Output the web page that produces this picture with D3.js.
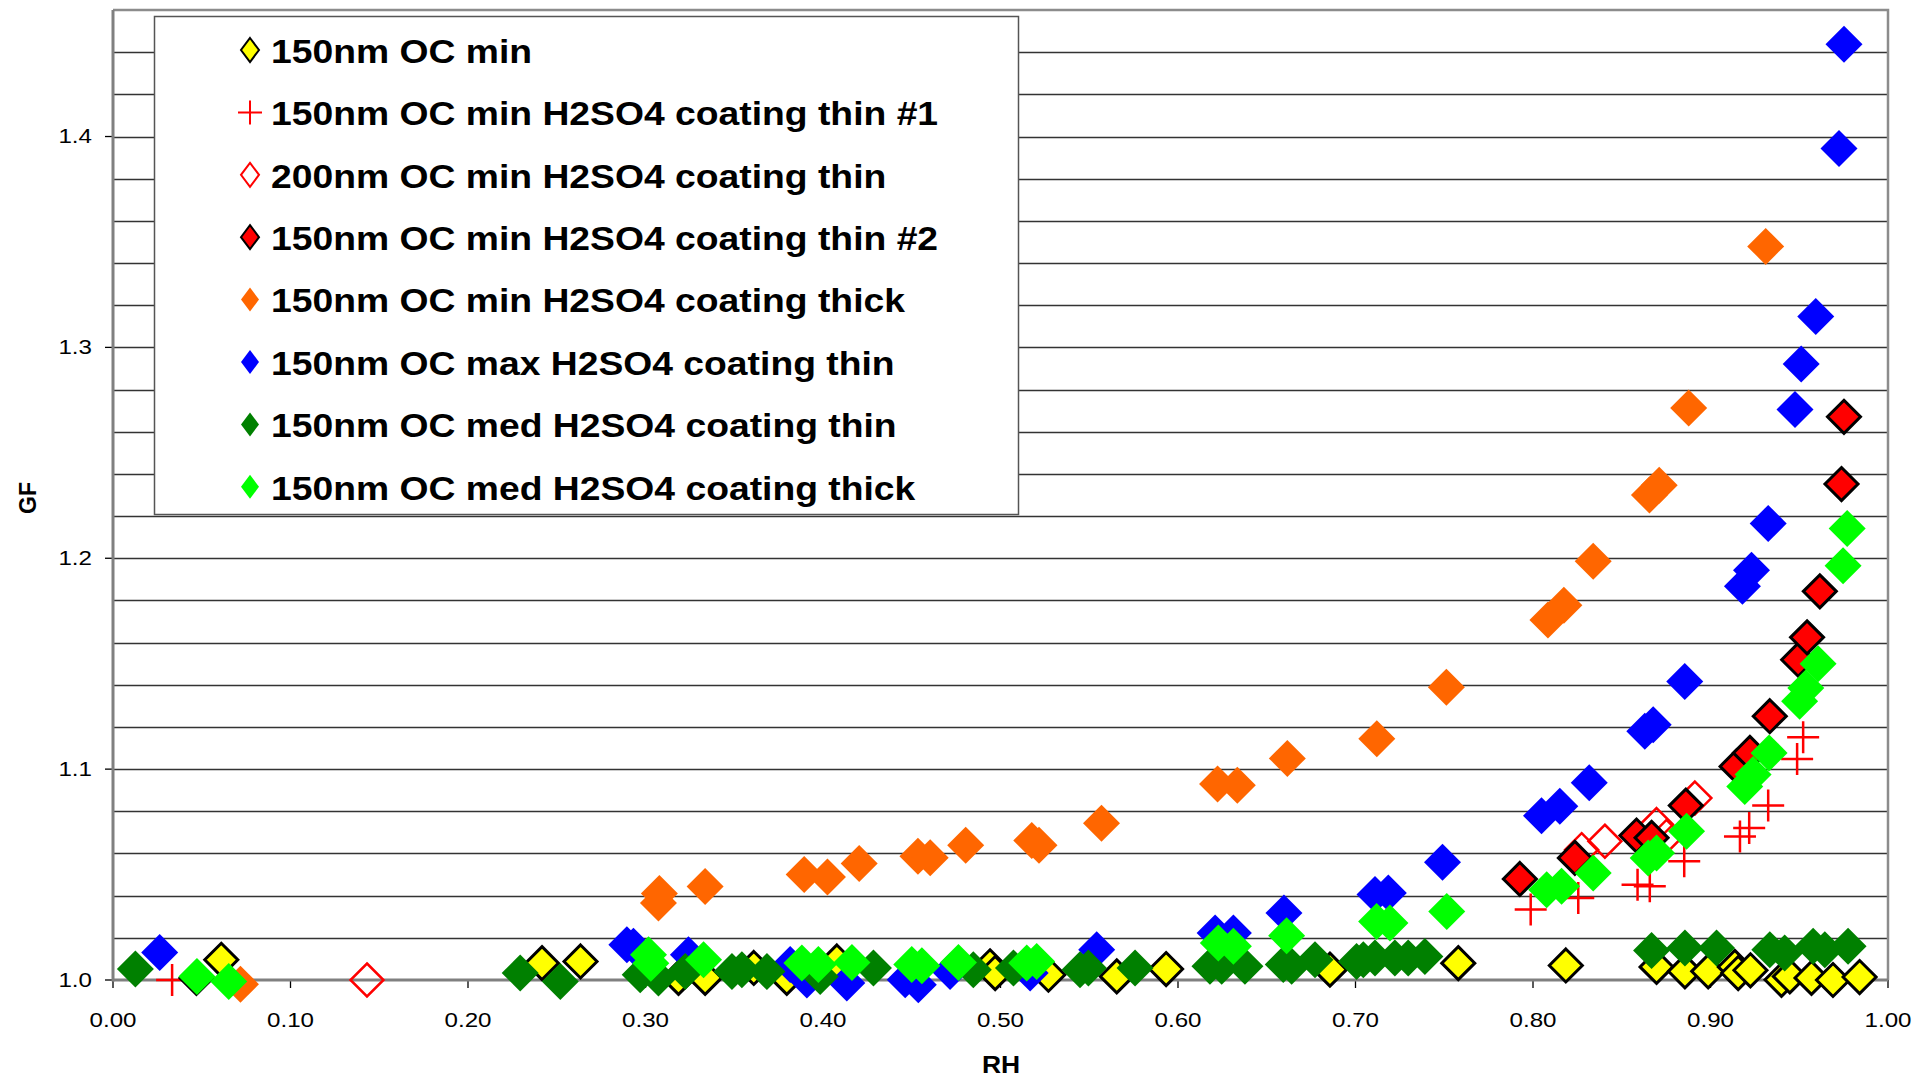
<!DOCTYPE html>
<head>
<meta charset="utf-8">
<title>GF vs RH</title>
<style>
    body { margin: 0; background: #fff; }
    text { font-family: "Liberation Sans", Arial, sans-serif; fill: #000; }
    .tick-label { font-size: 21px; }
    .axis-title { font-size: 23px; font-weight: bold; }
    .legend-label { font-size: 33px; font-weight: bold; }
</style>
</head>
<body>
<script src="https://d3js.org/d3.v7.min.js"></script>
<script>

// [RH, GF] pairs
const ocMin = [[0.061,1.0096],[0.2417,1.008],[0.2634,1.0088],[0.3186,1.001],[0.3336,1.001],[0.361,1.0057],
    [0.3796,1.001],[0.4078,1.0088],[0.4941,1.0065],[0.497,1.0033],[0.527,1.0025],[0.5655,1.0017],[0.5933,1.0052],
    [0.6856,1.0049],[0.7579,1.008],[0.8185,1.0069],[0.8696,1.0062],[0.8856,1.0041],[0.8987,1.0041],[0.9137,1.0062],
    [0.9156,1.0033],[0.9225,1.0046],[0.940,1.0001],[0.9447,1.0017],[0.9569,1.001],[0.969,1.000],[0.984,1.0014]];

const ocMinThin1 = [[0.0333,1.000],[0.7987,1.0334],[0.8255,1.0389],[0.8589,1.0452],[0.8658,1.0444],[0.8852,1.0563],
    [0.9166,1.0681],[0.9218,1.0721],[0.9325,1.0827],[0.9488,1.1048],[0.9522,1.1151]];

const oc200Thin = [[0.1431,1.000],[0.8274,1.0618],[0.8405,1.0658],[0.8696,1.0737],[0.8752,1.0681],[0.8912,1.0863]];

const ocMinThin2 = [[0.047,1.001],[0.7926,1.0479],[0.8236,1.0579],[0.8583,1.0685],[0.8668,1.0674],[0.8861,1.0827],
    [0.9147,1.1013],[0.9222,1.1077],[0.9334,1.1251],[0.9494,1.1519],[0.9544,1.1625],[0.9616,1.1843],[0.9738,1.2352],
    [0.9752,1.2671]];

const ocMinThick = [[0.0718,0.998],[0.3073,1.0365],[0.3078,1.041],[0.3336,1.0443],[0.3894,1.050],[0.4025,1.0488],
    [0.4204,1.0552],[0.4535,1.0587],[0.4604,1.058],[0.4804,1.0639],[0.5176,1.0662],[0.5217,1.0639],[0.5569,1.0743],
    [0.6223,1.0929],[0.6334,1.0923],[0.6616,1.1051],[0.712,1.1144],[0.7512,1.1388],[0.8084,1.1707],[0.8174,1.1777],
    [0.8339,1.1986],[0.8656,1.230],[0.8711,1.2346],[0.8877,1.2712],[0.9311,1.3479]];

const ocMaxThin = [[0.0263,1.0131],[0.2895,1.0167],[0.2932,1.016],[0.3242,1.012],[0.3815,1.0073],[0.3909,1.000],
    [0.4134,0.9986],[0.4463,1.0001],[0.4537,0.9978],[0.4716,1.004],[0.5167,1.0033],[0.5542,1.0144],[0.6209,1.0223],
    [0.6312,1.0223],[0.6597,1.0318],[0.711,1.0405],[0.7185,1.0413],[0.749,1.0558],[0.8048,1.0779],[0.8151,1.0824],
    [0.8317,1.0935],[0.863,1.118],[0.8677,1.1211],[0.8855,1.1416],[0.918,1.1867],[0.9231,1.1943],[0.9325,1.2165],
    [0.9476,1.2706],[0.9511,1.2921],[0.9593,1.3147],[0.9724,1.3943],[0.9752,1.4437]];

const ocMedThin = [[0.0126,1.0052],[0.2294,1.0033],[0.252,0.9993],[0.297,1.0025],[0.3073,1.001],[0.3224,1.004],
    [0.3487,1.004],[0.3543,1.0049],[0.3684,1.004],[0.3984,1.0017],[0.4284,1.0057],[0.4847,1.0049],[0.5073,1.0057],
    [0.5448,1.0049],[0.5495,1.0057],[0.5758,1.0057],[0.618,1.0065],[0.6246,1.0065],[0.6377,1.0065],[0.6593,1.0073],
    [0.664,1.0065],[0.6772,1.0096],[0.7006,1.0088],[0.7044,1.0096],[0.711,1.0104],[0.7222,1.0104],[0.7297,1.0104],
    [0.7391,1.0112],[0.8668,1.014],[0.8856,1.0152],[0.9034,1.0152],[0.9334,1.0144],[0.9418,1.0128],[0.9578,1.016],
    [0.9644,1.0144],[0.9775,1.016]];

const ocMedThick = [[0.0473,1.0017],[0.0652,0.9993],[0.3017,1.012],[0.303,1.008],[0.3327,1.0096],[0.3881,1.0081],
    [0.3974,1.0073],[0.4163,1.0083],[0.45,1.0073],[0.4557,1.0068],[0.4763,1.0083],[0.5148,1.0081],[0.5204,1.0088],
    [0.6227,1.0176],[0.6312,1.016],[0.6612,1.021],[0.7119,1.0278],[0.7194,1.027],[0.7514,1.0325],[0.8077,1.0428],
    [0.8161,1.0444],[0.8339,1.0508],[0.8649,1.0579],[0.8696,1.0602],[0.8865,1.0705],[0.9193,1.0918],[0.924,1.0974],
    [0.933,1.1077],[0.9502,1.1322],[0.9537,1.1385],[0.9606,1.15],[0.9747,1.1965],[0.977,1.2141]];

const seriesNames = [
    "150nm OC min",
    "150nm OC min H2SO4 coating thin #1",
    "200nm OC min H2SO4 coating thin",
    "150nm OC min H2SO4 coating thin #2",
    "150nm OC min H2SO4 coating thick",
    "150nm OC max H2SO4 coating thin",
    "150nm OC med H2SO4 coating thin",
    "150nm OC med H2SO4 coating thick"
];
const xTicks = [0, 0.1, 0.2, 0.3, 0.4, 0.5, 0.6, 0.7, 0.8, 0.9, 1.0];
const yTicks = [1.0, 1.1, 1.2, 1.3, 1.4];

// marker style per series: shape, fill, stroke
const styles = [
    {shape: "diamond", fill: "#ffff00", stroke: "#000", sw: 3},
    {shape: "plus", fill: "none", stroke: "#ff0000", sw: 2.5},
    {shape: "diamond", fill: "none", stroke: "#ff0000", sw: 2.5},
    {shape: "diamond", fill: "#ff0000", stroke: "#000", sw: 3},
    {shape: "diamond", fill: "#ff6600", stroke: "none", sw: 0},
    {shape: "diamond", fill: "#0000ff", stroke: "none", sw: 0},
    {shape: "diamond", fill: "#008000", stroke: "none", sw: 0},
    {shape: "diamond", fill: "#00ff00", stroke: "none", sw: 0}
];
const allSeries = [ocMin, ocMinThin1, oc200Thin, ocMinThin2, ocMinThick, ocMaxThin, ocMedThin, ocMedThick];

const W = 1919, H = 1078;
const stretch = 1.15;   // the source chart is stretched horizontally

const svg = d3.select("body").append("svg")
    .attr("width", W)
    .attr("height", H);

const x = d3.scaleLinear().domain([0, 1]).range([113, 1888]);
const y = d3.scaleLinear().domain([1.0, 1.46]).range([980, 10]);

function markerPath(shape, r) {
    if (shape === "plus") return `M${-r},0H${r}M0,${-r}V${r}`;
    return `M0,${-r}L${r},0L0,${r}L${-r},0Z`;
}

// gridlines every 0.02
const grid = d3.range(1.02, 1.4501, 0.02);
svg.append("g").selectAll("line")
    .data(grid)
    .join("line")
    .attr("x1", x(0)).attr("x2", x(1))
    .attr("y1", d => Math.round(y(d)) + 0.5).attr("y2", d => Math.round(y(d)) + 0.5)
    .attr("stroke", "#333")
    .attr("stroke-width", 1.3);

// plot frame (top & right)
svg.append("path")
    .attr("d", `M${x(0)},${y(1.46)}H${x(1)}V${y(1.0)}`)
    .attr("fill", "none")
    .attr("stroke", "#8c8c8c")
    .attr("stroke-width", 2.5);

// y axis
svg.append("g").selectAll("line")
    .data(yTicks)
    .join("line")
    .attr("x1", x(0) - 8).attr("x2", x(0))
    .attr("y1", d => y(d)).attr("y2", d => y(d))
    .attr("stroke", "#000").attr("stroke-width", 1.3);

svg.append("g").selectAll("text")
    .data(yTicks)
    .join("text")
    .attr("class", "tick-label")
    .attr("text-anchor", "end")
    .attr("dominant-baseline", "central")
    .attr("transform", d => `translate(92,${y(d)}) scale(${stretch},1)`)
    .text(d => d.toFixed(1));

// x axis
svg.append("g").selectAll("line")
    .data(xTicks)
    .join("line")
    .attr("x1", d => x(d)).attr("x2", d => x(d))
    .attr("y1", y(1.0)).attr("y2", y(1.0) + 8)
    .attr("stroke", "#000").attr("stroke-width", 1.3);

svg.append("g").selectAll("text")
    .data(xTicks)
    .join("text")
    .attr("class", "tick-label")
    .attr("text-anchor", "middle")
    .attr("transform", d => `translate(${x(d)},1027) scale(${stretch},1)`)
    .text(d => d.toFixed(2));

svg.append("line")
    .attr("x1", x(0)).attr("x2", x(1))
    .attr("y1", y(1.0)).attr("y2", y(1.0))
    .attr("stroke", "#808080").attr("stroke-width", 3);
svg.append("line")
    .attr("x1", x(0)).attr("x2", x(0))
    .attr("y1", y(1.46)).attr("y2", y(1.0) + 1.5)
    .attr("stroke", "#808080").attr("stroke-width", 3);

// axis titles
svg.append("text")
    .attr("class", "axis-title")
    .attr("text-anchor", "middle")
    .attr("transform", `translate(1001,1073) scale(${stretch},1)`)
    .text("RH");
svg.append("text")
    .attr("class", "axis-title")
    .attr("text-anchor", "middle")
    .attr("transform", `translate(36,498) rotate(-90)`)
    .text("GF");

// points, series in order so later ones sit on top
allSeries.forEach((data, i) => {
    const s = styles[i];
    const r = s.shape === "plus" ? 16 : (s.stroke === "none" ? 18.5 : 16.5);
    svg.append("g")
        .selectAll("path")
        .data(data)
        .join("path")
        .attr("transform", d => `translate(${x(d[0])},${y(d[1])})`)
        .attr("d", markerPath(s.shape, r))
        .attr("fill", s.fill)
        .attr("stroke", s.stroke)
        .attr("stroke-width", s.sw)
        .attr("stroke-linejoin", "miter");
});

// legend
const legend = svg.append("g");
legend.append("rect")
    .attr("x", 154.5).attr("y", 16.5)
    .attr("width", 864).attr("height", 498)
    .attr("fill", "#fff")
    .attr("stroke", "#555")
    .attr("stroke-width", 1.5);

const item = legend.selectAll(".item")
    .data(seriesNames)
    .join("g")
    .attr("class", "item")
    .attr("transform", (d, i) => `translate(250,${50 + i * 62.4})`);

item.append("path")
    .attr("d", (d, i) => styles[i].shape === "plus"
        ? `M-12,0H12M0,-12V12`
        : `M0,-12L9,0L0,12L-9,0Z`)
    .attr("fill", (d, i) => styles[i].fill)
    .attr("stroke", (d, i) => styles[i].stroke)
    .attr("stroke-width", (d, i) => styles[i].sw ? 2 : 0);

item.append("text")
    .attr("class", "legend-label")
    .attr("dominant-baseline", "central")
    .attr("transform", `translate(21,1) scale(1.13,1)`)
    .text(d => d);

</script>
</body>
